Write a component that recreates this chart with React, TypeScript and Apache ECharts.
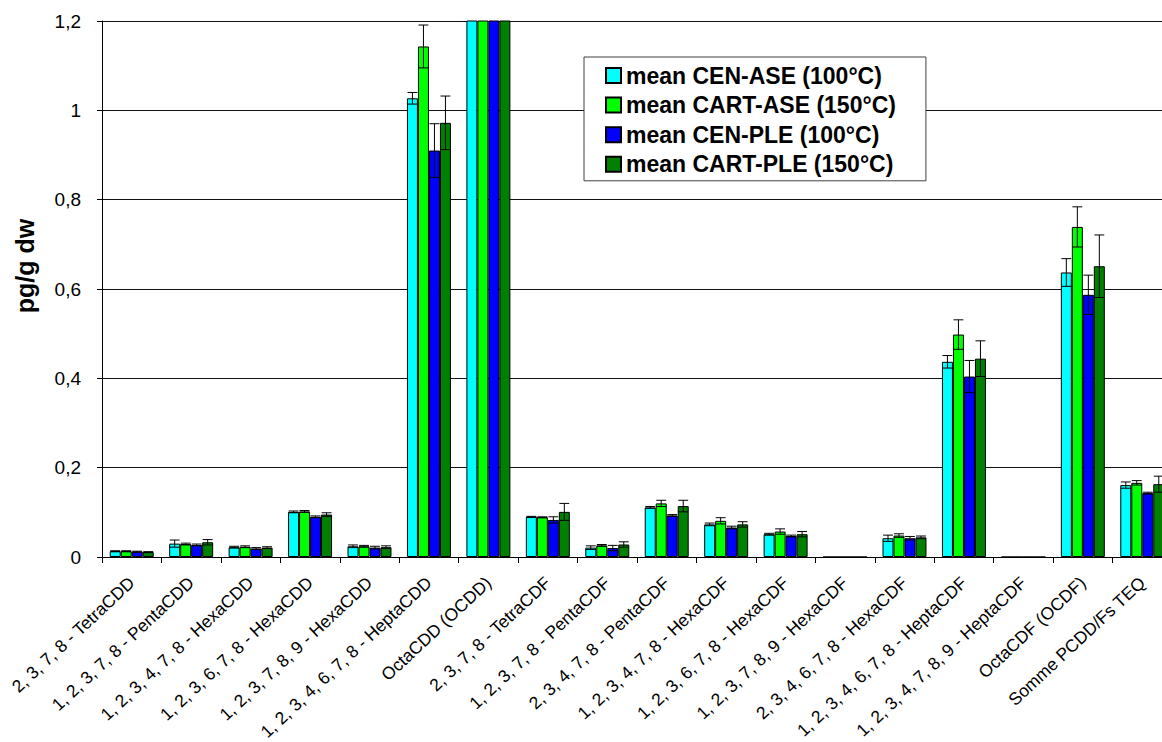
import React, { useEffect, useRef } from "react";
import * as echarts from "echarts";

// Congener categories along the x axis
const categories = [
  "2, 3, 7, 8 - TetraCDD",
  "1, 2, 3, 7, 8 - PentaCDD",
  "1, 2, 3, 4, 7, 8 - HexaCDD",
  "1, 2, 3, 6, 7, 8 - HexaCDD",
  "1, 2, 3, 7, 8, 9 - HexaCDD",
  "1, 2, 3, 4, 6, 7, 8 - HeptaCDD",
  "OctaCDD (OCDD)",
  "2, 3, 7, 8 - TetraCDF",
  "1, 2, 3, 7, 8 - PentaCDF",
  "2, 3, 4, 7, 8 - PentaCDF",
  "1, 2, 3, 4, 7, 8 - HexaCDF",
  "1, 2, 3, 6, 7, 8 - HexaCDF",
  "1, 2, 3, 7, 8, 9 - HexaCDF",
  "2, 3, 4, 6, 7, 8 - HexaCDF",
  "1, 2, 3, 4, 6, 7, 8 - HeptaCDF",
  "1, 2, 3, 4, 7, 8, 9 - HeptaCDF",
  "OctaCDF (OCDF)",
  "Somme PCDD/Fs TEQ",
];

const seriesNames = [
  "mean CEN-ASE (100°C)",
  "mean CART-ASE (150°C)",
  "mean CEN-PLE (100°C)",
  "mean CART-PLE (150°C)",
];
const seriesColors = ["#00FFFF", "#00FF00", "#0000FF", "#008000"];

// Mean concentrations (pg/g dw)
const cenAse = [0.013, 0.030, 0.022, 0.101, 0.024, 1.027, 2.6, 0.090, 0.021, 0.111, 0.073, 0.051, 0, 0.042, 0.437, 0, 0.637, 0.161];
const cartAse = [0.013, 0.029, 0.023, 0.102, 0.024, 1.143, 2.8, 0.089, 0.026, 0.120, 0.081, 0.057, 0, 0.048, 0.498, 0, 0.739, 0.166];
const cenPle = [0.012, 0.027, 0.019, 0.090, 0.021, 0.910, 2.5, 0.083, 0.020, 0.093, 0.066, 0.047, 0, 0.042, 0.404, 0, 0.587, 0.143];
const cartPle = [0.011, 0.033, 0.021, 0.095, 0.022, 0.972, 2.7, 0.101, 0.028, 0.114, 0.073, 0.051, 0, 0.044, 0.444, 0, 0.651, 0.163];

// Standard deviations (symmetric error bars)
const errCenAse = [0.001, 0.008, 0.002, 0.002, 0.003, 0.013, 0.1, 0.001, 0.004, 0.002, 0.003, 0.002, 0, 0.007, 0.014, 0, 0.031, 0.007];
const errCartAse = [0.001, 0.002, 0.002, 0.002, 0.002, 0.048, 0.1, 0.001, 0.002, 0.007, 0.007, 0.006, 0, 0.004, 0.033, 0, 0.045, 0.005];
const errCenPle = [0.001, 0.002, 0.002, 0.002, 0.003, 0.060, 0.1, 0.007, 0.006, 0.002, 0.003, 0.002, 0, 0.004, 0.036, 0, 0.044, 0.002];
const errCartPle = [0.001, 0.006, 0.002, 0.004, 0.003, 0.060, 0.1, 0.019, 0.006, 0.013, 0.006, 0.006, 0, 0.003, 0.040, 0, 0.070, 0.018];

const yTicks = [0, 0.2, 0.4, 0.6, 0.8, 1, 1.2];

const FONT = "'Liberation Sans', Arial, Helvetica, sans-serif";
const CATEGORY_GAP = 0.26;

export default function App() {
  const ref = useRef<HTMLDivElement>(null);

  useEffect(() => {
    if (!ref.current) return;
    const chart = echarts.init(ref.current, null, { renderer: "svg" });

    const means = [cenAse, cartAse, cenPle, cartPle];
    const errs = [errCenAse, errCartAse, errCenPle, errCartPle];

    // [category index, series index, mean, error]
    const errorData: number[][] = [];
    means.forEach((arr, s) => {
      arr.forEach((v, c) => {
        if (errs[s][c] > 0) errorData.push([c, s, v, errs[s][c]]);
      });
    });

    const barSeries = means.map((arr, s) => ({
      type: "bar",
      name: seriesNames[s],
      data: arr,
      barGap: "0%",
      barCategoryGap: `${CATEGORY_GAP * 100}%`,
      itemStyle: { color: seriesColors[s], borderColor: "#000", borderWidth: 1 },
      emphasis: { disabled: true },
      clip: true,
    }));

    const errorSeries = {
      type: "custom",
      name: "err",
      clip: true,
      z: 5,
      silent: true,
      encode: { x: 0, y: 2 },
      data: errorData,
      renderItem: (params: any, api: any) => {
        const c = api.value(0);
        const s = api.value(1);
        const v = api.value(2);
        const e = api.value(3);
        const catW = api.size([1, 0])[0];
        const bw = (catW * (1 - CATEGORY_GAP)) / 4;
        const center = api.coord([c, v]);
        const x = center[0] + (s - 1.5) * bw;
        const yTop = api.coord([c, v + e])[1];
        const yBot = api.coord([c, Math.max(v - e, 0)])[1];
        const half = bw * 0.45;
        const st = { stroke: "#000", lineWidth: 1 };
        return {
          type: "group",
          children: [
            { type: "line", shape: { x1: x, y1: yTop, x2: x, y2: yBot }, style: st },
            { type: "line", shape: { x1: x - half, y1: yTop, x2: x + half, y2: yTop }, style: st },
            { type: "line", shape: { x1: x - half, y1: yBot, x2: x + half, y2: yBot }, style: st },
          ],
        };
      },
    };

    chart.setOption({
      animation: false,
      backgroundColor: "#fff",
      textStyle: { fontFamily: FONT },
      grid: {
        left: 102,
        right: -10,
        top: 21,
        bottom: 185,
        containLabel: false,
        outerBoundsMode: "none",
      },
      legend: {
        data: seriesNames,
        orient: "vertical",
        left: 584,
        top: 57,
        padding: [7, 30, 5, 21],
        itemGap: 6.6,
        itemWidth: 15,
        itemHeight: 15,
        icon: "rect",
        backgroundColor: "#fff",
        borderColor: "#404040",
        borderWidth: 1,
        selectedMode: false,
        textStyle: { fontFamily: FONT, fontWeight: "bold", fontSize: 23, color: "#000", lineHeight: 23 },
      },
      xAxis: {
        type: "category",
        data: categories,
        axisLine: { lineStyle: { color: "#000", width: 1 } },
        axisTick: { show: true, length: 6, interval: 0, lineStyle: { color: "#000" } },
        axisLabel: {
          interval: 0,
          rotate: 43,
          margin: 23,
          fontFamily: FONT,
          fontSize: 17.5,
          lineHeight: 16,
          color: "#000",
        },
      },
      yAxis: {
        type: "value",
        min: 0,
        max: 1.2,
        interval: 0.2,
        axisLine: { show: true, lineStyle: { color: "#000", width: 1 } },
        axisTick: { show: true, length: 5, lineStyle: { color: "#000" } },
        splitLine: { show: true, lineStyle: { color: "#111", width: 1 } },
        axisLabel: {
          margin: 21,
          fontFamily: FONT,
          fontSize: 19,
          color: "#000",
          formatter: (v: number) => {
            const t = yTicks.find((k) => Math.abs(k - v) < 1e-9);
            return String(t !== undefined ? t : v).replace(".", ",");
          },
        },
      },
      graphic: [
        {
          type: "text",
          x: 25,
          y: 266,
          rotation: Math.PI / 2,
          style: {
            text: "pg/g dw",
            font: `bold 25px ${FONT}`,
            fill: "#000",
            align: "center",
            verticalAlign: "middle",
          },
        },
      ],
      series: [...barSeries, errorSeries],
    });

    return () => chart.dispose();
  }, []);

  return (
    <div
      ref={ref}
      style={{ position: "fixed", left: 0, top: 0, width: 1162, height: 742, overflow: "hidden" }}
    />
  );
}
